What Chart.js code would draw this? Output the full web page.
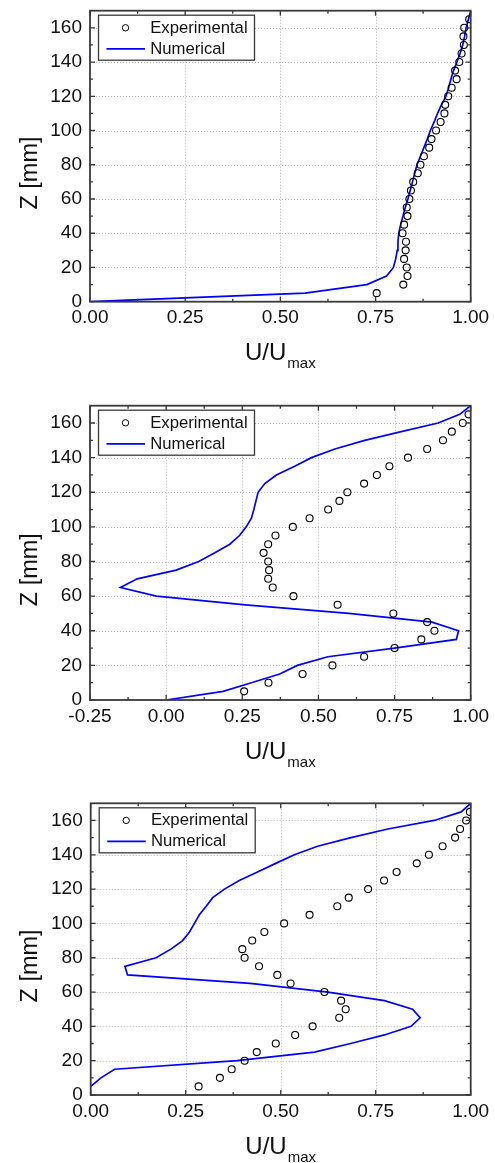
<!DOCTYPE html>
<html>
<head>
<meta charset="utf-8">
<script src="https://cdn.jsdelivr.net/npm/chart.js@4.4.0/dist/chart.umd.min.js"></script>
<style>
  html, body { margin: 0; padding: 0; background: #fff; }
  body { width: 495px; height: 1163px; position: relative; overflow: hidden; }
  canvas { position: absolute; left: 0; display: block; }
</style>
</head>
<body>
<canvas id="p1" width="495" height="388" style="top:0px"></canvas>
<canvas id="p2" width="495" height="388" style="top:388px"></canvas>
<canvas id="p3" width="495" height="387" style="top:776px"></canvas>
<script>
// Heights of the measuring stations [mm]
const zExp = [5, 10, 15, 20, 25, 30, 35, 40, 45, 50, 55, 60, 65, 70, 75, 80, 85,
              90, 95, 100, 105, 110, 115, 120, 125, 130, 135, 140, 145, 150, 155, 160, 165];
const zNum = [0, 5, 10, 15, 20, 25, 30, 35, 40, 45, 50, 55, 60, 65, 70, 75, 80, 85,
              90, 95, 100, 105, 110, 115, 120, 125, 130, 135, 140, 145, 150, 155, 160, 165, 170];
const zNum3 = [5, 10, 15, 20, 25, 30, 35, 40, 45, 50, 55, 60, 65, 70, 75, 80, 85,
               90, 95, 100, 105, 110, 115, 120, 125, 130, 135, 140, 145, 150, 155, 160, 165, 170];

// Profile 1: U/Umax
const exp1 = [0.753, 0.823, 0.834, 0.832, 0.825, 0.829, 0.830, 0.821, 0.825, 0.834, 0.832,
              0.839, 0.843, 0.849, 0.861, 0.868, 0.877, 0.891, 0.897, 0.909, 0.921, 0.931,
              0.933, 0.941, 0.950, 0.963, 0.959, 0.970, 0.976, 0.982, 0.981, 0.983, 0.996];
const num1 = [0.000, 0.565, 0.727, 0.779, 0.797, 0.803, 0.807, 0.809, 0.811, 0.816, 0.822,
              0.828, 0.835, 0.841, 0.847, 0.853, 0.859, 0.868, 0.877, 0.886, 0.894, 0.904,
              0.913, 0.923, 0.935, 0.942, 0.948, 0.955, 0.964, 0.972, 0.979, 0.984, 0.988,
              0.994, 1.000];

// Profile 2: U/Umax
const exp2 = [0.256, 0.336, 0.448, 0.546, 0.650, 0.750, 0.838, 0.881, 0.857, 0.746, 0.563,
              0.418, 0.350, 0.335, 0.338, 0.335, 0.320, 0.335, 0.359, 0.416, 0.471, 0.532,
              0.569, 0.595, 0.650, 0.692, 0.733, 0.794, 0.857, 0.909, 0.938, 0.974, 0.993];
const num2 = [0.000, 0.187, 0.280, 0.373, 0.431, 0.531, 0.750, 0.953, 0.960, 0.873, 0.600,
              0.260, -0.032, -0.150, -0.095, 0.033, 0.107, 0.160, 0.209, 0.241, 0.263, 0.280,
              0.288, 0.295, 0.302, 0.324, 0.362, 0.422, 0.477, 0.554, 0.652, 0.772, 0.893,
              0.964, 1.000];

// Profile 3: U/Umax
const exp3 = [0.284, 0.340, 0.371, 0.405, 0.437, 0.487, 0.538, 0.584, 0.654, 0.671, 0.659,
              0.615, 0.526, 0.491, 0.443, 0.405, 0.399, 0.425, 0.457, 0.509, 0.576, 0.649,
              0.679, 0.730, 0.772, 0.805, 0.858, 0.890, 0.926, 0.959, 0.972, 0.988, 0.998];
const num3 = [0.000, 0.027, 0.063, 0.385, 0.589, 0.684, 0.773, 0.843, 0.867, 0.847, 0.773,
              0.624, 0.420, 0.097, 0.090, 0.172, 0.211, 0.242, 0.260, 0.273, 0.286, 0.304,
              0.321, 0.352, 0.391, 0.439, 0.487, 0.536, 0.597, 0.685, 0.782, 0.904, 0.975, 1.000];

// Axis settings
const zMin = 0, zMax = 170, zStep = 20;
const uStep = 0.25, uMax = 1.0;
const uMin = [0.0, -0.25, 0.0];
const seriesNames = ['Experimental', 'Numerical'];

const FONT = "'Liberation Sans', Arial, Helvetica, sans-serif";
const INK = '#111111';
const FRAME = '#3a3a3a';
const BLUE = '#0000ff';

function pairs(xs, zs) {
  return xs.map((v, i) => ({ x: v, y: zs[i] }));
}

// Dotted grid, inward tick marks on all four sides, and the frame
const framePlugin = {
  id: 'frameTicks',
  beforeDatasetsDraw(chart) {
    const { ctx, chartArea: a, scales: { x, y } } = chart;
    ctx.save();
    ctx.strokeStyle = '#b4b4b4';
    ctx.lineWidth = 1;
    ctx.setLineDash([1, 2]);
    x.ticks.forEach(t => {
      const px = Math.round(x.getPixelForValue(t.value)) + 0.5;
      if (px <= a.left + 2 || px >= a.right - 2) return;
      ctx.beginPath(); ctx.moveTo(px, a.top); ctx.lineTo(px, a.bottom); ctx.stroke();
    });
    y.ticks.forEach(t => {
      const py = Math.round(y.getPixelForValue(t.value)) + 0.5;
      if (py <= a.top + 2 || py >= a.bottom - 2) return;
      ctx.beginPath(); ctx.moveTo(a.left, py); ctx.lineTo(a.right, py); ctx.stroke();
    });
    ctx.restore();
  },
  afterDatasetsDraw(chart) {
    const { ctx, chartArea: a, scales: { x, y } } = chart;
    ctx.save();
    ctx.strokeStyle = FRAME;
    ctx.lineWidth = 1.3;
    const xs = x.ticks.map(t => t.value);
    const ys = y.ticks.map(t => t.value);
    const mark = (v, len, horiz) => {
      if (horiz) {
        const px = x.getPixelForValue(v);
        ctx.beginPath();
        ctx.moveTo(px, a.bottom); ctx.lineTo(px, a.bottom - len);
        ctx.moveTo(px, a.top); ctx.lineTo(px, a.top + len);
        ctx.stroke();
      } else {
        const py = y.getPixelForValue(v);
        ctx.beginPath();
        ctx.moveTo(a.left, py); ctx.lineTo(a.left + len, py);
        ctx.moveTo(a.right, py); ctx.lineTo(a.right - len, py);
        ctx.stroke();
      }
    };
    xs.forEach(v => mark(v, 5, true));
    for (let i = 0; i < xs.length - 1; i++) mark((xs[i] + xs[i + 1]) / 2, 3, true);
    ys.forEach(v => mark(v, 5, false));
    for (let i = 0; i < ys.length; i++) {
      const m = ys[i] + zStep / 2;
      if (m < zMax) mark(m, 3, false);
    }
    ctx.lineWidth = 1.8;
    ctx.strokeRect(a.left, a.top, a.right - a.left, a.bottom - a.top);
    ctx.restore();
  }
};

// Boxed legend in the upper-left corner of the plot
const legendPlugin = {
  id: 'boxLegend',
  afterDraw(chart) {
    const { ctx, chartArea: a } = chart;
    const bx = a.left + 8.5, by = a.top + 4.5, bw = 156, bh = 45;
    ctx.save();
    ctx.fillStyle = '#fff';
    ctx.fillRect(bx, by, bw, bh);
    ctx.strokeStyle = FRAME;
    ctx.lineWidth = 1.3;
    ctx.strokeRect(bx, by, bw, bh);
    // circle marker
    ctx.beginPath();
    ctx.arc(bx + 27, by + 12.6, 3.2, 0, Math.PI * 2);
    ctx.strokeStyle = '#000';
    ctx.lineWidth = 1;
    ctx.stroke();
    // line sample
    ctx.beginPath();
    ctx.moveTo(bx + 8, by + 33.6);
    ctx.lineTo(bx + 46.5, by + 33.6);
    ctx.strokeStyle = BLUE;
    ctx.lineWidth = 1.7;
    ctx.stroke();
    ctx.fillStyle = INK;
    ctx.font = '16.7px ' + FONT;
    ctx.textBaseline = 'middle';
    ctx.textAlign = 'left';
    ctx.fillText(seriesNames[0], bx + 51.7, by + 13);
    ctx.fillText(seriesNames[1], bx + 51.7, by + 34);
    ctx.restore();
  }
};

// Axis titles: Z [mm] and U/U_max
const titlePlugin = {
  id: 'axisTitles',
  afterDraw(chart) {
    const { ctx, chartArea: a } = chart;
    ctx.save();
    ctx.fillStyle = INK;
    // vertical title
    ctx.font = '23.5px ' + FONT;
    ctx.textAlign = 'center';
    ctx.textBaseline = 'alphabetic';
    ctx.translate(a.left - 53.5, (a.top + a.bottom) / 2 + 16.8);
    ctx.rotate(-Math.PI / 2);
    ctx.fillText('Z [mm]', 0, 0);
    ctx.restore();

    ctx.save();
    ctx.fillStyle = INK;
    ctx.textBaseline = 'alphabetic';
    ctx.textAlign = 'left';
    const main = 'U/U', sub = 'max';
    ctx.font = '24px ' + FONT;
    const w1 = ctx.measureText(main).width;
    ctx.font = '15px ' + FONT;
    const w2 = ctx.measureText(sub).width;
    const x0 = (a.left + a.right) / 2 - (w1 + w2 + 1) / 2;
    const base = a.bottom + 58.5;
    ctx.font = '24px ' + FONT;
    ctx.fillText(main, x0, base);
    ctx.font = '15px ' + FONT;
    ctx.fillText(sub, x0 + w1 + 1, base + 8);
    ctx.restore();
  }
};

function makeChart(id, idx, exp, num, zn, area) {
  const canvas = document.getElementById(id);
  const H = canvas.height;
  return new Chart(canvas, {
    type: 'scatter',
    data: {
      datasets: [
        {
          label: seriesNames[0],
          data: pairs(exp, zExp),
          showLine: false,
          pointStyle: 'circle',
          pointRadius: 3.5,
          pointBorderWidth: 1.1,
          pointBorderColor: '#000',
          pointBackgroundColor: 'rgba(0,0,0,0)',
          order: 1
        },
        {
          label: seriesNames[1],
          data: pairs(num, zn),
          showLine: true,
          pointRadius: 0,
          borderColor: BLUE,
          borderWidth: 1.7,
          tension: 0,
          fill: false,
          order: 2
        }
      ]
    },
    options: {
      responsive: false,
      animation: false,
      events: [],
      layout: { padding: { left: 0, top: area.top, right: 495 - area.right, bottom: 0 } },
      plugins: { legend: { display: false }, tooltip: { enabled: false } },
      scales: {
        x: {
          type: 'linear',
          min: uMin[idx], max: uMax,
          grid: { display: false, drawTicks: false },
          border: { display: false },
          afterFit(scale) {
            scale.height = H - area.bottom;
            scale.paddingLeft = 0; scale.paddingRight = 0;
          },
          ticks: {
            stepSize: uStep,
            includeBounds: false,
            autoSkip: false,
            maxRotation: 0,
            padding: 7,
            color: INK,
            font: { family: FONT, size: 19, lineHeight: 1 },
            callback: v => Number(v).toFixed(2)
          }
        },
        y: {
          type: 'linear',
          min: zMin, max: zMax,
          grid: { display: false, drawTicks: false },
          border: { display: false },
          afterFit(scale) {
            scale.width = area.left;
            scale.paddingTop = 0; scale.paddingBottom = 0;
          },
          ticks: {
            stepSize: zStep,
            includeBounds: false,
            autoSkip: false,
            padding: 8,
            color: INK,
            font: { family: FONT, size: 19, lineHeight: 1 },
            callback: v => String(Math.round(v))
          }
        }
      }
    },
    plugins: [framePlugin, legendPlugin, titlePlugin]
  });
}

makeChart('p1', 0, exp1, num1, zNum,  { left: 90,   right: 470.7, top: 10.7, bottom: 301.7 });
makeChart('p2', 1, exp2, num2, zNum,  { left: 90,   right: 470.7, top: 17.7, bottom: 312 });
makeChart('p3', 2, exp3, num3, zNum3, { left: 90.7, right: 470.7, top: 27.3, bottom: 319 });
</script>
</body>
</html>
